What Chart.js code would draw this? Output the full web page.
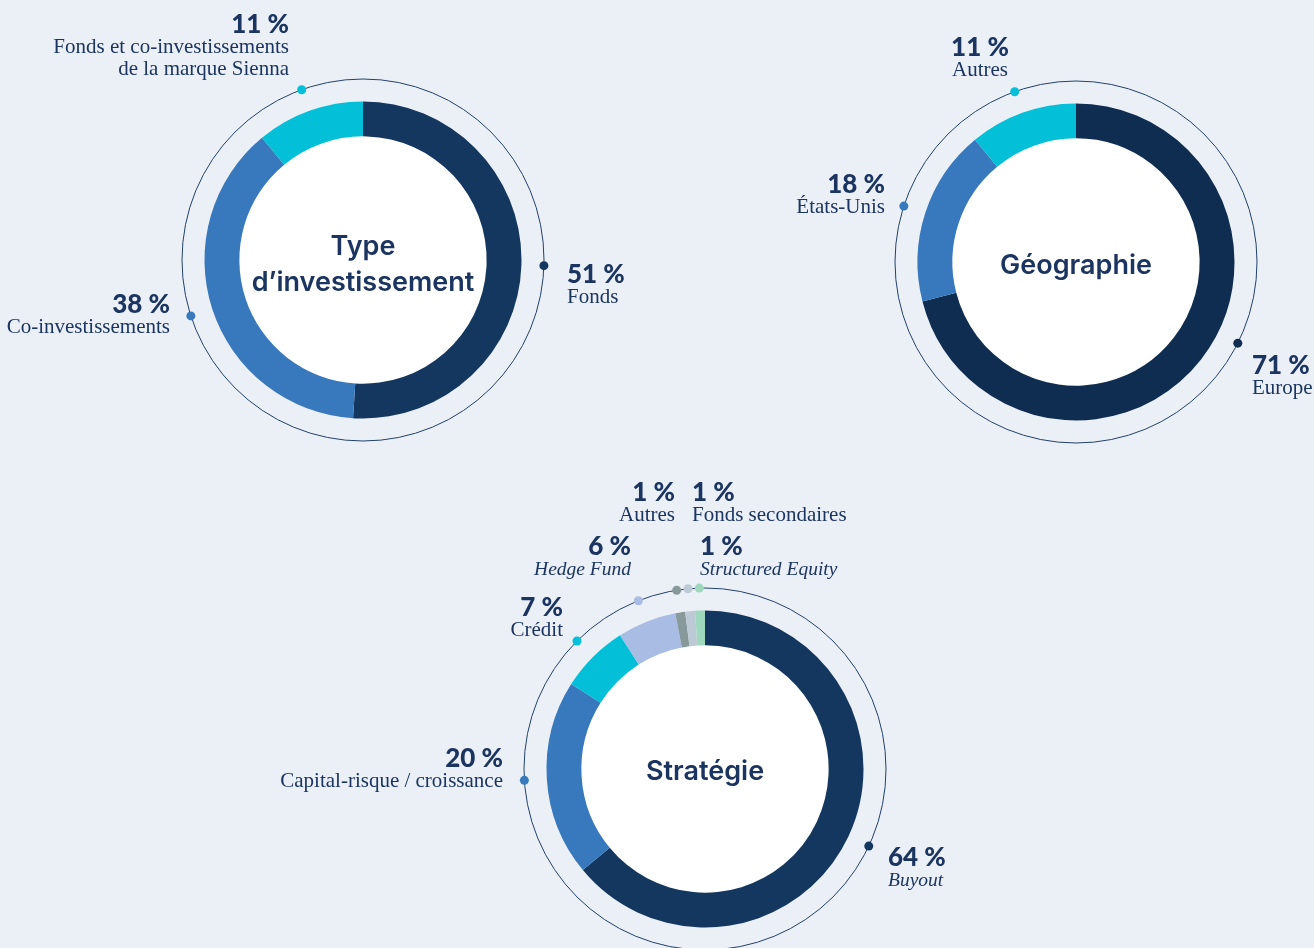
<!DOCTYPE html>
<html lang="fr">
<head>
<meta charset="utf-8">
<title>Répartition</title>
<script src="https://cdn.jsdelivr.net/npm/chart.js@4.4.1/dist/chart.umd.min.js"></script>
<style>
  html, body { margin: 0; padding: 0; background: #ebf0f7; }
  #wrap { position: relative; width: 1314px; height: 948px; overflow: hidden; }
  #wrap canvas { position: absolute; left: 0; top: 0; }
</style>
</head>
<body>
<div id="wrap">
  <canvas id="type-chart" width="1314" height="948"></canvas>
  <canvas id="geo-chart" width="1314" height="948"></canvas>
  <canvas id="strat-chart" width="1314" height="948"></canvas>
</div>
<script>
// data
const typeLabels = ['Fonds', 'Co-investissements', ['Fonds et co-investissements', 'de la marque Sienna']];
const typeValues = [51, 38, 11];

const geoLabels = ['Europe', 'États-Unis', 'Autres'];
const geoValues = [71, 18, 11];

const stratLabels = ['Buyout', 'Capital-risque / croissance', 'Crédit', 'Hedge Fund', 'Autres', 'Fonds secondaires', 'Structured Equity'];
const stratValues = [64, 20, 7, 6, 1, 1, 1];

const W = 1314;
const H = 948;
const R = 158.5;
const TEXT = '#1b3560';
const NAVY = '#14375f';
const BLUE = '#3878bd';
const CYAN = '#03bfd7';

// ring, dots, labels and white centre
const ringPlugin = {
  id: 'ringLabels',
  beforeDatasetsDraw(chart, args, opts) {
    const ctx = chart.ctx;
    const arc = chart.getDatasetMeta(0).data[0];
    ctx.save();
    ctx.beginPath();
    ctx.arc(arc.x, arc.y, opts.ring, 0, Math.PI * 2);
    ctx.strokeStyle = '#21406a';
    ctx.lineWidth = 1;
    ctx.stroke();
    ctx.beginPath();
    ctx.arc(arc.x, arc.y, arc.innerRadius + 1, 0, Math.PI * 2);
    ctx.fillStyle = '#ffffff';
    ctx.fill();
    ctx.restore();
  },
  afterDatasetsDraw(chart, args, opts) {
    const ctx = chart.ctx;
    const ds = chart.data.datasets[0];
    const meta = chart.getDatasetMeta(0);
    const cx = meta.data[0].x;
    const cy = meta.data[0].y;
    ctx.save();

    meta.data.forEach((el, i) => {
      const p = opts.places[i];
      let a = (el.startAngle + el.endAngle) / 2;
      if (p.dotAt != null) a = -Math.PI / 2 + p.dotAt * Math.PI * 2;
      ctx.beginPath();
      ctx.arc(cx + Math.cos(a) * opts.ring, cy + Math.sin(a) * opts.ring, 4.5, 0, Math.PI * 2);
      ctx.fillStyle = ds.backgroundColor[i];
      ctx.fill();

      const x = cx + p.dx;
      let y = cy + p.dy;
      ctx.textAlign = p.align;
      ctx.textBaseline = 'alphabetic';
      ctx.fillStyle = TEXT;
      ctx.font = '900 26px Lato';
      ctx.fillText(ds.data[i] + ' %', x, y);
      ctx.font = p.italic ? 'italic 19.5px "Liberation Serif"' : '21px "Liberation Serif"';
      [].concat(chart.data.labels[i]).forEach((line, k) => {
        y += k === 0 ? 20 : 22;
        ctx.fillText(line, x, y);
      });
    });

    ctx.font = '600 27px Inter';
    ctx.textAlign = 'center';
    ctx.fillStyle = TEXT;
    opts.title.forEach((line, k) => {
      ctx.fillText(line, cx, cy + opts.titleY + k * 36);
    });
    ctx.restore();
  },
};

function makeChart(id, cx, cy, labels, values, colors, ring, title, titleY, places) {
  const ctx = document.getElementById(id).getContext('2d');
  return new Chart(ctx, {
    type: 'doughnut',
    data: {
      labels: labels,
      datasets: [{
        data: values,
        backgroundColor: colors,
        borderWidth: 0,
      }],
    },
    options: {
      responsive: false,
      animation: false,
      events: [],
      cutout: '78%',
      layout: {
        padding: { left: cx - R, top: cy - R, right: W - cx - R, bottom: H - cy - R },
      },
      plugins: {
        legend: { display: false },
        tooltip: { enabled: false },
        ringLabels: { ring: ring, title: title, titleY: titleY, places: places },
      },
    },
    plugins: [ringPlugin],
  });
}

makeChart('type-chart', 363, 260, typeLabels, typeValues, [NAVY, BLUE, CYAN], 181,
  ['Type', 'd’investissement'], -5, [
    { dx: 204, dy: 23, align: 'left' },
    { dx: -193, dy: 53, align: 'right' },
    { dx: -74, dy: -227, align: 'right' },
  ]);

makeChart('geo-chart', 1076, 262, geoLabels, geoValues, ['#0f2d51', BLUE, CYAN], 181,
  ['Géographie'], 12, [
    { dx: 176, dy: 112, align: 'left', dotAt: 0.324 },
    { dx: -191, dy: -69, align: 'right' },
    { dx: -96, dy: -206, align: 'center' },
  ]);

makeChart('strat-chart', 705, 769, stratLabels, stratValues,
  [NAVY, BLUE, CYAN, '#a9bce3', '#87999a', '#bccad6', '#9fd8bd'], 181,
  ['Stratégie'], 11, [
    { dx: 183, dy: 97, align: 'left', italic: true },
    { dx: -202, dy: -2, align: 'right' },
    { dx: -142, dy: -153, align: 'right' },
    { dx: -74, dy: -214, align: 'right', italic: true },
    { dx: -30, dy: -268, align: 'right' },
    { dx: -13, dy: -268, align: 'left' },
    { dx: -5, dy: -214, align: 'left', italic: true },
  ]);
</script>
</body>
</html>
